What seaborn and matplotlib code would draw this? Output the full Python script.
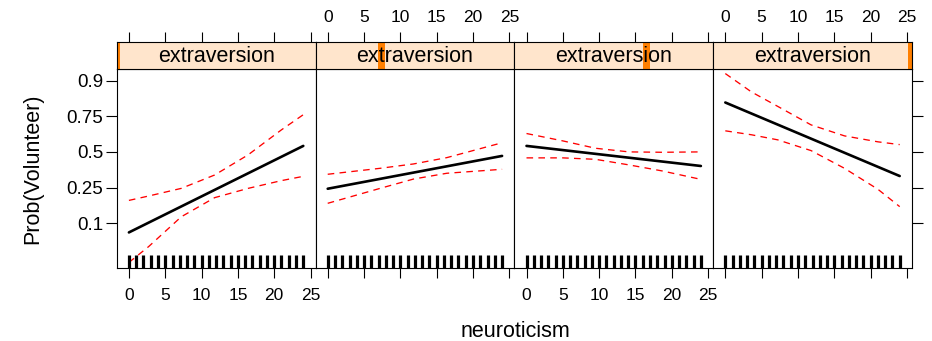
import numpy as np
import pandas as pd
import matplotlib
matplotlib.use("Agg")
import matplotlib.pyplot as plt
from matplotlib.patches import Rectangle
from matplotlib.ticker import FixedLocator, NullLocator, FixedFormatter
import seaborn as sns

# ---------------- data ----------------
neuroticism_ticks = [0, 5, 10, 15, 20, 25]
prob_ticks = [0.1, 0.25, 0.5, 0.75, 0.9]
prob_tick_labels = ["0.1", "0.25", "0.5", "0.75", "0.9"]

extraversion_levels = [2, 9, 16, 23]
extraversion_range = [2, 23]

fit_x = [0, 24]
fit_p1 = [0.077, 0.546]
fit_p2 = [0.243, 0.469]
fit_p3 = [0.546, 0.393]
fit_p4 = [0.821, 0.322]

ci_x1 = [0, 2.7, 7.2, 11.8, 16.4, 21, 24]
ci_hi1 = [0.183, 0.204, 0.245, 0.329, 0.477, 0.664, 0.759]
ci_lo1 = [0.032, 0.051, 0.119, 0.196, 0.245, 0.292, 0.320]

ci_x2 = [0, 7.2, 11.8, 16.4, 24]
ci_hi2 = [0.334, 0.376, 0.408, 0.456, 0.570]
ci_lo2 = [0.170, 0.245, 0.302, 0.341, 0.369]

ci_x3 = [0, 5, 9.5, 14.1, 18.7, 24]
ci_hi3 = [0.638, 0.584, 0.528, 0.500, 0.497, 0.500]
ci_lo3 = [0.454, 0.454, 0.443, 0.401, 0.357, 0.300]

ci_x4 = [0, 3.6, 7.2, 11.8, 16.4, 21, 24]
ci_hi4 = [0.918, 0.864, 0.803, 0.697, 0.621, 0.577, 0.556]
ci_lo4 = [0.657, 0.629, 0.592, 0.510, 0.376, 0.240, 0.156]

rug_neuroticism = list(range(0, 25))

fits = [fit_p1, fit_p2, fit_p3, fit_p4]
cis = [(ci_x1, ci_lo1, ci_hi1), (ci_x2, ci_lo2, ci_hi2),
       (ci_x3, ci_lo3, ci_hi3), (ci_x4, ci_lo4, ci_hi4)]

# ---------------- style ----------------
sns.set_theme(style="white")
plt.rcParams["font.family"] = ["Liberation Sans", "DejaVu Sans"]
FS_X = 12.5
FS_Y = 13.5
FS_STRIP = 15.5
FS_LAB = 15.5

W, H = 932, 341
fig = plt.figure(figsize=(W / 100, H / 100), dpi=100)

left0, pw = 116.7, 198.8
p_top, p_bot = 69, 268
s_top = 42
xlim = (-1.68, 25.68)
ylim = (0.0271, 0.928)

for i in range(4):
    x0 = left0 + i * pw
    ax = fig.add_axes([x0 / W, (H - p_bot) / H, pw / W, (p_bot - p_top) / H])
    axs = fig.add_axes([x0 / W, (H - p_top) / H, pw / W, (p_top - s_top) / H])

    # panel content
    fdf = pd.DataFrame({"neuroticism": fit_x, "p": fits[i]})
    cx, clo, chi = cis[i]
    cdf = pd.DataFrame({"neuroticism": cx, "lo": clo, "hi": chi})
    sns.lineplot(data=cdf, x="neuroticism", y="hi", ax=ax, color="red",
                 lw=0.95, linestyle=(0, (5, 4)), estimator=None, sort=False)
    sns.lineplot(data=cdf, x="neuroticism", y="lo", ax=ax, color="red",
                 lw=0.95, linestyle=(0, (5, 4)), estimator=None, sort=False)
    sns.lineplot(data=fdf, x="neuroticism", y="p", ax=ax, color="black",
                 lw=1.9, estimator=None, sort=False)
    sns.rugplot(x=rug_neuroticism, ax=ax, height=13 / 199, color="black",
                linewidth=2.3, expand_margins=False)

    ax.set_yscale("logit")
    ax.set_xlim(*xlim)
    ax.set_ylim(*ylim)
    ax.set_xlabel("")
    ax.set_ylabel("")
    ax.set_facecolor("white")
    for sp in ax.spines.values():
        sp.set_visible(True)
        sp.set_color("black")
        sp.set_linewidth(0.8)

    ax.xaxis.set_major_locator(FixedLocator(neuroticism_ticks))
    ax.xaxis.set_minor_locator(NullLocator())
    ax.yaxis.set_major_locator(FixedLocator(prob_ticks))
    ax.yaxis.set_major_formatter(FixedFormatter(prob_tick_labels))
    ax.yaxis.set_minor_locator(NullLocator())

    ax.tick_params(axis="x", which="major", direction="out", length=7.2,
                   width=0.8, color="black", labelsize=FS_X, pad=7.0,
                   labelbottom=(i % 2 == 0), bottom=True, top=False,
                   labelcolor="black")
    ax.tick_params(axis="y", which="major", direction="out", length=7.6,
                   width=0.8, color="black", labelsize=FS_Y, pad=2,
                   left=(i == 0), labelleft=(i == 0), right=(i == 3),
                   labelright=False, labelcolor="black")

    # strip
    axs.set_xlim(*xlim)
    axs.set_ylim(0, 1)
    axs.set_facecolor("#FFE5CC")
    for sp in axs.spines.values():
        sp.set_visible(True)
        sp.set_color("black")
        sp.set_linewidth(0.8)
    pos = (extraversion_levels[i] - extraversion_range[0]) / (extraversion_range[1] - extraversion_range[0])
    bw = 0.035
    axs.add_patch(Rectangle((pos - bw / 2, 0), bw, 1, transform=axs.transAxes,
                            facecolor="#FF7F00", edgecolor="none", clip_on=True, zorder=1))
    axs.text(0.5, 0.45, "extraversion", transform=axs.transAxes, ha="center",
             va="center", fontsize=FS_STRIP, color="black", zorder=3)
    axs.xaxis.set_major_locator(FixedLocator(neuroticism_ticks))
    axs.xaxis.set_minor_locator(NullLocator())
    axs.yaxis.set_major_locator(NullLocator())
    axs.tick_params(axis="x", which="major", direction="out", length=7.2,
                    width=0.8, color="black", labelsize=FS_X, pad=4.8,
                    bottom=False, labelbottom=False, top=True,
                    labeltop=(i % 2 == 1), labelcolor="black")

fig.text(33 / W, (H - 168.5) / H, "Prob(Volunteer)", rotation=90,
         ha="center", va="center", fontsize=FS_LAB, color="black")
fig.text(515 / W, 4 / H, "neuroticism", ha="center", va="baseline",
         fontsize=FS_LAB, color="black")

fig.savefig("out.png", dpi=100, facecolor="white")
